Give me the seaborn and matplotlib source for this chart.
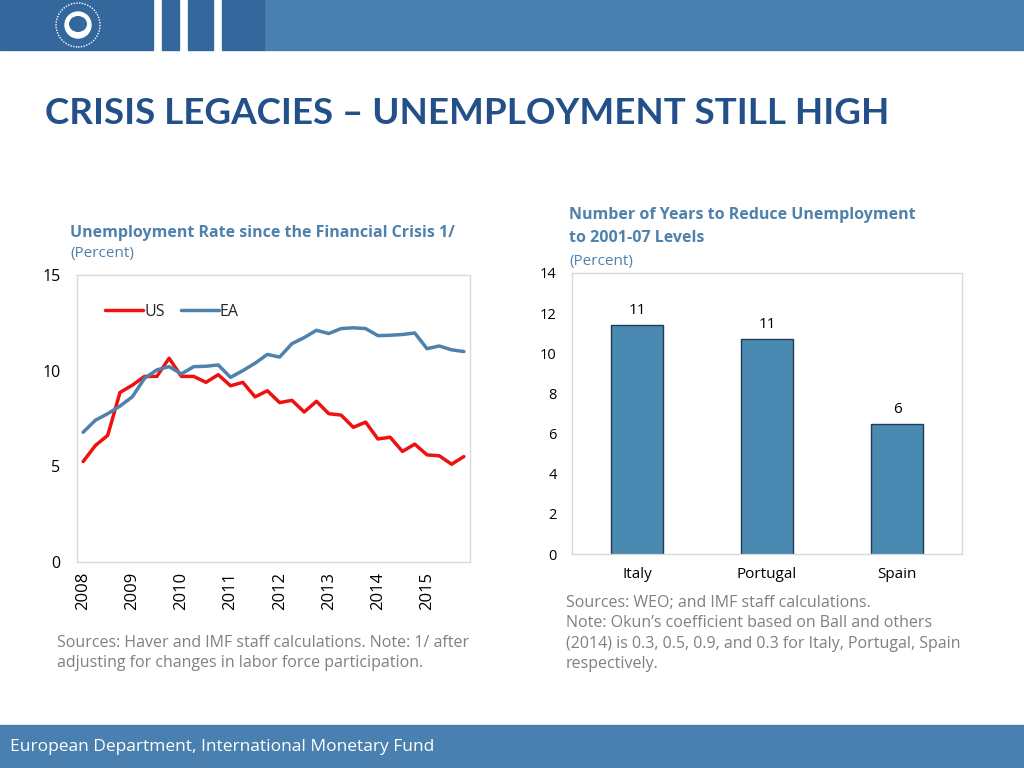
import matplotlib
matplotlib.use("Agg")
import matplotlib.pyplot as plt
from matplotlib.patches import Rectangle, Ellipse
from matplotlib.lines import Line2D
import seaborn as sns
import pandas as pd
import numpy as np

# ---------------- data ----------------
years = ["2008", "2009", "2010", "2011", "2012", "2013", "2014", "2015"]
us_rate = [5.25, 6.09, 6.62, 8.86, 9.24, 9.70, 9.70, 10.65, 9.70, 9.70, 9.39, 9.79,
           9.21, 9.39, 8.63, 8.95, 8.33, 8.45, 7.84, 8.40, 7.75, 7.68, 7.04, 7.31,
           6.43, 6.52, 5.78, 6.16, 5.60, 5.55, 5.11, 5.51]
ea_rate = [6.78, 7.41, 7.75, 8.15, 8.63, 9.60, 10.04, 10.21, 9.83, 10.21, 10.23, 10.30,
           9.65, 10.00, 10.39, 10.85, 10.71, 11.41, 11.73, 12.11, 11.94, 12.20, 12.24, 12.20,
           11.83, 11.85, 11.89, 11.97, 11.15, 11.29, 11.09, 11.00]
countries = ["Italy", "Portugal", "Spain"]
years_to_reduce = [11.4, 10.7, 6.5]

W, H = 1024, 768
DARK = "#34679C"
LIGHT = "#4A80B0"
TITLE_BLUE = "#24508A"
CHART_BLUE = "#4F81AD"
NOTE_GRAY = "#808080"
FRAME = "#D9D9D9"

sns.set_theme(style="white")
plt.rcParams["font.family"] = ["Open Sans", "DejaVu Sans"]

fig = plt.figure(figsize=(W / 100, H / 100), dpi=100)
fig.patch.set_facecolor("white")

def fx(x):
    return x / W

def fy(y):
    return 1 - y / H

def rect(x0, y0, x1, y1, color):
    fig.patches.append(Rectangle((fx(x0), fy(y1)), fx(x1 - x0), (y1 - y0) / H,
                                 transform=fig.transFigure, color=color, zorder=0))

# header
rect(264, 0, W, 50, LIGHT)
rect(0, 0, 153, 50, DARK)
rect(162, 0, 179, 50, DARK)
rect(188, 0, 213, 50, DARK)
rect(222, 0, 264, 50, DARK)
# logo (simplified seal)
fig.patches.append(Ellipse((fx(78), fy(25)), 44 / W, 44 / H, transform=fig.transFigure,
                           facecolor="none", edgecolor="white", lw=1.0, ls=(0, (1, 1)), zorder=1))
fig.patches.append(Ellipse((fx(78), fy(25)), 26 / W, 26 / H, transform=fig.transFigure,
                           facecolor="white", edgecolor="white", lw=1, zorder=1))
fig.patches.append(Ellipse((fx(78), fy(24)), 18 / W, 16 / H, transform=fig.transFigure,
                           facecolor=DARK, edgecolor="none", zorder=2))
# footer
rect(0, 725, W, H, LIGHT)
fig.text(fx(10), fy(747), "European Department, International Monetary Fund",
         color="white", fontsize=12.5, va="center", ha="left")

# title
fig.text(fx(45), fy(113), "CRISIS LEGACIES \u2013 UNEMPLOYMENT STILL HIGH",
         color=TITLE_BLUE, fontsize=26.5, fontweight="bold", va="center", ha="left",
         family=["Lato", "DejaVu Sans"])

# ---------------- left chart ----------------
ax1 = fig.add_axes([fx(77), fy(562), fx(470 - 77), (562 - 275) / H])
n = len(us_rate)
df = pd.DataFrame({
    "q": list(range(n)) * 2,
    "value": us_rate + ea_rate,
    "series": ["US"] * n + ["EA"] * n,
})
sns.lineplot(data=df, x="q", y="value", hue="series",
             palette={"US": "#EE1111", "EA": "#4F81AD"}, linewidth=2.5, ax=ax1,
             legend=False)
ax1.set_xlim(-0.5, n - 0.5)
ax1.set_ylim(0, 15)
ax1.set_yticks([0, 5, 10, 15])
ax1.set_yticklabels(["0", "5", "10", "15"])
ax1.set_xticks([4 * i for i in range(len(years))])
ax1.set_xticklabels(years, rotation=90)
ax1.set_xticks(np.arange(-0.5, n, 1), minor=True)
ax1.tick_params(axis="x", which="major", length=0, pad=7, labelsize=12, colors="black")
ax1.tick_params(axis="x", which="minor", direction="in", length=4, color=FRAME, width=1)
ax1.tick_params(axis="y", which="major", direction="in", length=4, color=FRAME,
                pad=12, labelsize=11.5, labelcolor="black")
ax1.set_xlabel("")
ax1.set_ylabel("")
for s in ax1.spines.values():
    s.set_color(FRAME)
    s.set_linewidth(1)
handles = [Line2D([], [], color="#EE1111", lw=2.5), Line2D([], [], color="#4F81AD", lw=2.5)]
ax1.legend(handles, ["US", "EA"], loc="upper left", ncol=2, frameon=False,
           bbox_to_anchor=(0.035, 0.95), handlelength=2.4, handletextpad=0.05,
           columnspacing=1.0, fontsize=11.5)

fig.text(fx(70), fy(233), "Unemployment Rate since the Financial Crisis 1/",
         color=CHART_BLUE, fontsize=11.5, fontweight="bold", va="center", ha="left")
fig.text(fx(70), fy(253), "(Percent)", color=CHART_BLUE, fontsize=11, va="center", ha="left")
fig.text(fx(57), fy(643), "Sources: Haver and IMF staff calculations. Note: 1/ after",
         color=NOTE_GRAY, fontsize=11.5, va="center", ha="left")
fig.text(fx(57), fy(663), "adjusting for changes in labor force participation.",
         color=NOTE_GRAY, fontsize=11.5, va="center", ha="left")

# ---------------- right chart ----------------
ax2 = fig.add_axes([fx(572), fy(554), fx(962 - 572), (554 - 273) / H])
bdf = pd.DataFrame({"country": countries, "years": years_to_reduce})
sns.barplot(data=bdf, x="country", y="years", color="#4A8AB2", saturation=1,
            width=0.4, edgecolor="#1F3B55", linewidth=1, ax=ax2)
ax2.set_ylim(0, 14)
ax2.set_xlim(-0.5, len(countries) - 0.5)
ax2.set_yticks(range(0, 15, 2))
ax2.set_xticks(np.arange(-0.5, len(countries), 1), minor=True)
ax2.tick_params(axis="x", which="major", length=0, pad=9, labelsize=11, colors="black")
ax2.tick_params(axis="x", which="minor", direction="in", length=4, color=FRAME)
ax2.tick_params(axis="y", which="major", length=0, pad=11, labelsize=10.5, labelcolor="black")
ax2.set_xlabel("")
ax2.set_ylabel("")
for s in ax2.spines.values():
    s.set_color(FRAME)
    s.set_linewidth(1)
for c in ax2.containers:
    ax2.bar_label(c, fmt="%.0f", padding=5, fontsize=11, color="black")

fig.text(fx(569), fy(215), "Number of Years to Reduce Unemployment",
         color=CHART_BLUE, fontsize=11.5, fontweight="bold", va="center", ha="left")
fig.text(fx(569), fy(238), "to 2001-07 Levels",
         color=CHART_BLUE, fontsize=11.5, fontweight="bold", va="center", ha="left")
fig.text(fx(569), fy(261), "(Percent)", color=CHART_BLUE, fontsize=11, va="center", ha="left")
notes_r = ["Sources: WEO; and IMF staff calculations.",
           "Note: Okun\u2019s coefficient based on Ball and others",
           "(2014) is 0.3, 0.5, 0.9, and 0.3 for Italy, Portugal, Spain",
           "respectively."]
for i, line in enumerate(notes_r):
    fig.text(fx(566), fy(603 + 20.3 * i), line, color=NOTE_GRAY, fontsize=11.5,
             va="center", ha="left")

fig.savefig("out.png", dpi=100, facecolor="white")
